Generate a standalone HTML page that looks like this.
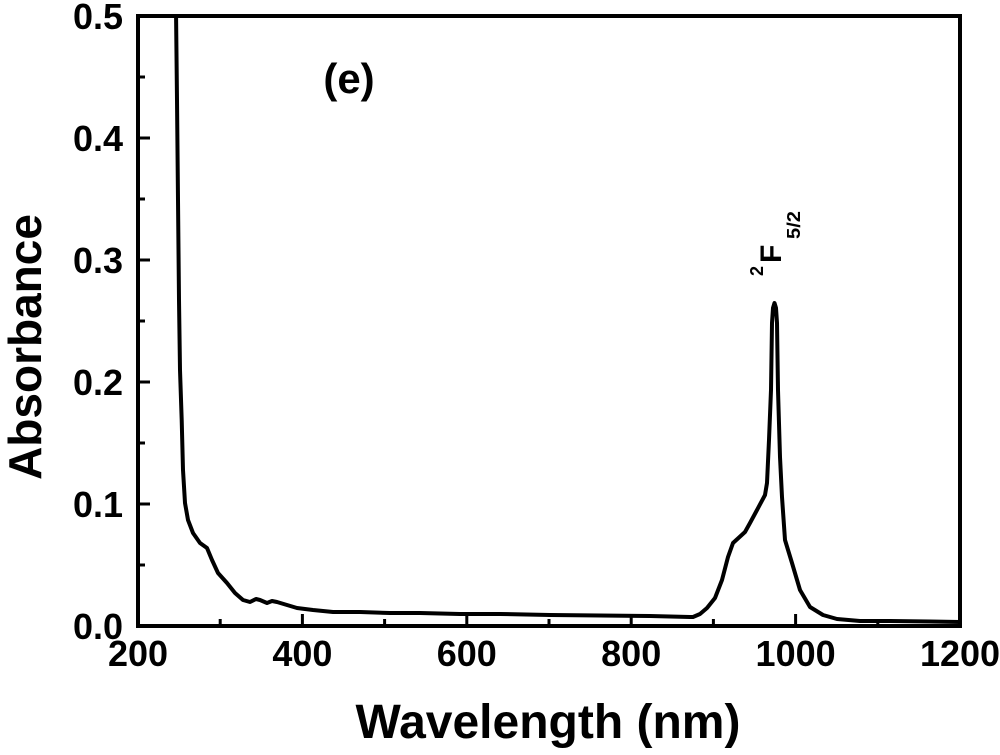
<!DOCTYPE html>
<html>
<head>
<meta charset="utf-8">
<style>
  html,body{margin:0;padding:0;background:#fff;}
  svg{display:block;}
  text{font-family:"Liberation Sans",Arial,sans-serif;font-weight:bold;fill:#000;}
</style>
</head>
<body>
<svg width="1000" height="755" viewBox="0 0 1000 755" xmlns="http://www.w3.org/2000/svg">
  <defs>
    <clipPath id="pc"><rect x="138" y="16" width="822" height="610"/></clipPath>
  </defs>
  <rect width="1000" height="755" fill="#fff"/>

  <!-- curve -->
  <path clip-path="url(#pc)" fill="none" stroke="#000" stroke-width="4" stroke-linejoin="round" stroke-linecap="round"
    d="M176,10 L177,100 L178,200 L179,300 L180,370 L181.7,420 L183,470 L185,503 L188,520 L193,533 L200,543 L207,548 L212,560 L218,573 L227,583 L235,593 L243,600 L250,602 L256,599 L260,600 L267,603 L272,601 L277,602 L287,605 L297,608 L313,610 L333,612 L360,612 L390,613 L420,613 L460,614 L500,614 L550,615 L600,615.5 L650,616 L690,617 L693,617 L700,614 L707,608 L715,598 L722,580 L728,557 L733,543 L745,532 L750,523 L757,510 L765,495 L767,483 L769,440 L771,390 L772,323 L773,308 L774.5,303 L776,308 L777,323 L778,390 L780,457 L782,497 L785,540 L792,563 L800,590 L810,607 L823,615 L837,619 L860,621 L890,621 L930,621.5 L962,622"/>

  <!-- frame -->
  <rect x="138" y="16" width="822" height="610" fill="none" stroke="#000" stroke-width="4"/>

  <!-- x ticks -->
  <g stroke="#000" stroke-width="3">
    <line x1="302.4" y1="626" x2="302.4" y2="614"/>
    <line x1="466.8" y1="626" x2="466.8" y2="614"/>
    <line x1="631.2" y1="626" x2="631.2" y2="614"/>
    <line x1="795.6" y1="626" x2="795.6" y2="614"/>
    <line x1="220.2" y1="626" x2="220.2" y2="619"/>
    <line x1="384.6" y1="626" x2="384.6" y2="619"/>
    <line x1="549" y1="626" x2="549" y2="619"/>
    <line x1="713.4" y1="626" x2="713.4" y2="619"/>
    <line x1="877.8" y1="626" x2="877.8" y2="619"/>
  </g>
  <!-- y ticks -->
  <g stroke="#000" stroke-width="3">
    <line x1="138" y1="504" x2="150" y2="504"/>
    <line x1="138" y1="382" x2="150" y2="382"/>
    <line x1="138" y1="260" x2="150" y2="260"/>
    <line x1="138" y1="138" x2="150" y2="138"/>
    <line x1="138" y1="565" x2="145" y2="565"/>
    <line x1="138" y1="443" x2="145" y2="443"/>
    <line x1="138" y1="321" x2="145" y2="321"/>
    <line x1="138" y1="199" x2="145" y2="199"/>
    <line x1="138" y1="77" x2="145" y2="77"/>
  </g>

  <!-- x tick labels -->
  <g font-size="36" text-anchor="middle">
    <text x="138" y="666">200</text>
    <text x="302.4" y="666">400</text>
    <text x="466.8" y="666">600</text>
    <text x="631.2" y="666">800</text>
    <text x="795.6" y="666">1000</text>
    <text x="960" y="666">1200</text>
  </g>
  <!-- y tick labels -->
  <g font-size="36" text-anchor="end">
    <text x="123" y="639">0.0</text>
    <text x="123" y="517">0.1</text>
    <text x="123" y="395">0.2</text>
    <text x="123" y="273">0.3</text>
    <text x="123" y="151">0.4</text>
    <text x="123" y="29">0.5</text>
  </g>

  <!-- axis titles -->
  <text x="548" y="738" font-size="48" text-anchor="middle">Wavelength (nm)</text>
  <text transform="translate(41,347) rotate(-90)" x="0" y="0" font-size="46" text-anchor="middle">Absorbance</text>

  <!-- panel label -->
  <text x="349" y="93" font-size="42" text-anchor="middle">(e)</text>

  <!-- peak label -->
  <g transform="translate(781,277) rotate(-90)">
    <text x="1" y="-18" font-size="18">2</text>
    <text x="14" y="0" font-size="30">F</text>
    <text x="38" y="19" font-size="18" textLength="28" lengthAdjust="spacingAndGlyphs">5/2</text>
  </g>
</svg>
</body>
</html>
